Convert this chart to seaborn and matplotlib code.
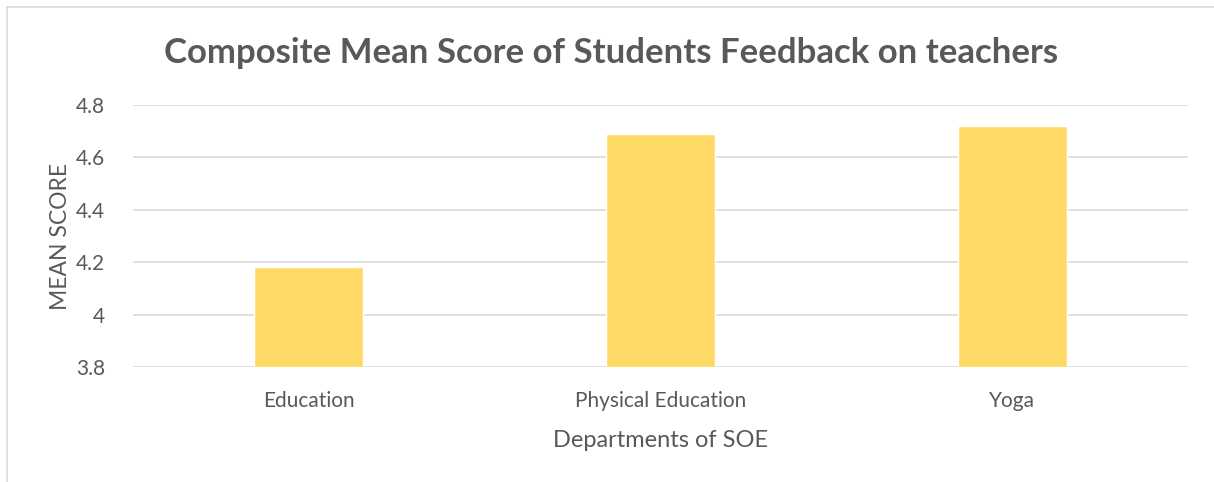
import matplotlib
matplotlib.use("Agg")
import matplotlib.pyplot as plt
import seaborn as sns
import pandas as pd
from matplotlib.lines import Line2D

sns.set_theme(style="white")
plt.rcParams['font.family'] = ['Lato', 'DejaVu Sans']

# data
departments = ["Education", "Physical Education", "Yoga"]
mean_scores = [4.18, 4.69, 4.72]
y_ticks = [3.8, 4.0, 4.2, 4.4, 4.6, 4.8]
y_tick_labels = ["3.8", "4", "4.2", "4.4", "4.6", "4.8"]

df = pd.DataFrame({"dept": departments, "score": mean_scores})

W, H = 1214, 482
fig = plt.figure(figsize=(W / 100, H / 100), dpi=100)
ax = fig.add_axes([133 / W, 1 - 367 / H, (1188 - 133) / W, (367 - 105) / H])

grey = "#595959"
sns.barplot(data=df, x="dept", y="score", color="#FFD966", width=0.31,
            saturation=1, ax=ax, zorder=3)

ax.set_ylim(3.8, 4.8)
ax.set_yticks(y_ticks)
ax.set_yticklabels(y_tick_labels)
ax.set_xlim(-0.5, 2.5)
ax.grid(axis="y", color="#d9d9d9", linewidth=1.2, zorder=0)
ax.grid(axis="x", visible=False)
for s in ax.spines.values():
    s.set_visible(False)
ax.tick_params(axis="both", length=0, labelsize=15, labelcolor=grey)
ax.tick_params(axis="y", pad=20)
ax.tick_params(axis="x", pad=17)

ax.set_xlabel("Departments of SOE", fontsize=17, color=grey, labelpad=14)
ax.set_ylabel("MEAN SCORE", fontsize=16.5, color=grey, labelpad=4)

fig.text(611 / W, 1 - 53 / H, "Composite Mean Score of Students Feedback on teachers",
         ha="center", va="center", fontsize=25, fontweight="bold", color=grey)

# chart frame (top and left edges only visible)
fig.add_artist(Line2D([7 / W, 7 / W], [0, 1 - 7 / H], transform=fig.transFigure,
                      color="#d9d9d9", linewidth=1.2))
fig.add_artist(Line2D([7 / W, 1], [1 - 7 / H, 1 - 7 / H], transform=fig.transFigure,
                      color="#d9d9d9", linewidth=1.2))

fig.savefig("out.png", dpi=100, facecolor="white")
